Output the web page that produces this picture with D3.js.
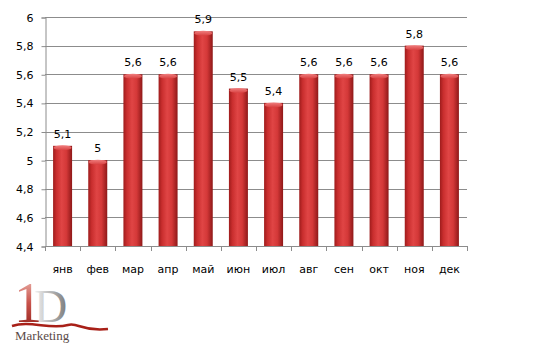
<!DOCTYPE html>
<html>
<head>
<meta charset="utf-8">
<script src="https://cdn.jsdelivr.net/npm/d3@7"></script>
<style>
body { margin: 0; background: #fff; }
</style>
</head>
<body>
<svg id="chart" width="540" height="348"></svg>
<script>
// monthly values
var months = ['янв', 'фев', 'мар', 'апр', 'май', 'июн', 'июл', 'авг', 'сен', 'окт', 'ноя', 'дек'];
var values = [5.1, 5.0, 5.6, 5.6, 5.9, 5.5, 5.4, 5.6, 5.6, 5.6, 5.8, 5.6];
var y_ticks = [4.4, 4.6, 4.8, 5.0, 5.2, 5.4, 5.6, 5.8, 6.0];

var svg = d3.select('#chart');
var plot_left = 45, plot_right = 467, plot_top = 17, plot_bottom = 246;
var sans = '"DejaVu Sans", Verdana, sans-serif';
var serif = '"Liberation Serif", "DejaVu Serif", serif';

var x = d3.scaleBand().domain(months).range([plot_left, plot_right]).paddingInner(0.46).paddingOuter(0.23);
var y = d3.scaleLinear().domain([4.4, 6]).range([plot_bottom, plot_top]);
var fmt = function (d) { return String(+d.toFixed(1)).replace('.', ','); };

var defs = svg.append('defs');
var grad = defs.append('linearGradient').attr('id', 'bar-grad');
[[0, '#9e1c1c'], [0.18, '#c92e2e'], [0.45, '#e04545'], [0.7, '#d43838'], [1, '#8e1818']].forEach(function (s) {
    grad.append('stop').attr('offset', s[0]).attr('stop-color', s[1]);
});
var capGrad = defs.append('linearGradient').attr('id', 'cap-grad').attr('x1', 0).attr('y1', 0).attr('x2', 0).attr('y2', 1);
capGrad.append('stop').attr('offset', 0).attr('stop-color', '#f08080');
capGrad.append('stop').attr('offset', 1).attr('stop-color', '#d84040');

// grid lines
svg.append('g').selectAll('line').data(y_ticks.slice(1)).enter().append('line')
    .attr('x1', plot_left).attr('x2', plot_right)
    .attr('y1', function (d) { return Math.round(y(d)) + 0.5; })
    .attr('y2', function (d) { return Math.round(y(d)) + 0.5; })
    .attr('stroke', '#8c8c8c').attr('stroke-width', 1);

// axes
var yAxis = svg.append('g').attr('transform', 'translate(' + (plot_left + 0.5) + ',0.5)')
    .call(d3.axisLeft(y).tickValues(y_ticks).tickFormat(fmt).tickSize(4).tickPadding(8));
yAxis.select('.domain').attr('stroke', '#8c8c8c');
yAxis.selectAll('.tick line').attr('stroke', '#8c8c8c');
yAxis.selectAll('.tick text').attr('font-size', 11).attr('fill', '#000').attr('font-family', sans);

var xTicks = d3.range(months.length + 1).map(function (i) {
    return plot_left + i * (plot_right - plot_left) / months.length;
});
var xAxis = svg.append('g');
xAxis.append('line').attr('x1', plot_left).attr('x2', plot_right)
    .attr('y1', plot_bottom + 0.5).attr('y2', plot_bottom + 0.5).attr('stroke', '#8c8c8c');
xAxis.selectAll('.tk').data(xTicks).enter().append('line')
    .attr('x1', function (d) { return Math.round(d) + 0.5; })
    .attr('x2', function (d) { return Math.round(d) + 0.5; })
    .attr('y1', plot_bottom).attr('y2', plot_bottom + 5).attr('stroke', '#8c8c8c');
xAxis.selectAll('.lbl').data(months).enter().append('text')
    .attr('x', function (d) { return x(d) + x.bandwidth() / 2; })
    .attr('y', 273).attr('text-anchor', 'middle')
    .attr('font-family', sans).attr('font-size', 11).attr('fill', '#000')
    .text(function (d) { return d; });

// bars
var bars = svg.append('g').selectAll('g').data(values).enter().append('g');
bars.append('rect')
    .attr('x', function (d, i) { return x(months[i]); })
    .attr('y', function (d) { return y(d); })
    .attr('width', x.bandwidth())
    .attr('height', function (d) { return plot_bottom - y(d); })
    .attr('fill', 'url(#bar-grad)');
bars.append('ellipse')
    .attr('cx', function (d, i) { return x(months[i]) + x.bandwidth() / 2; })
    .attr('cy', function (d) { return y(d) + 2; })
    .attr('rx', x.bandwidth() / 2 - 0.5).attr('ry', 2.5)
    .attr('fill', 'url(#cap-grad)');
bars.append('text')
    .attr('x', function (d, i) { return x(months[i]) + x.bandwidth() / 2; })
    .attr('y', function (d) { return y(d) - 8; })
    .attr('text-anchor', 'middle')
    .attr('font-family', sans).attr('font-size', 11).attr('fill', '#000')
    .text(fmt);

// logo
var logo = svg.append('g');
var dGrad = defs.append('linearGradient').attr('id', 'd-grad');
dGrad.append('stop').attr('offset', 0).attr('stop-color', '#f4f4f4');
dGrad.append('stop').attr('offset', 1).attr('stop-color', '#7a7a7a');
var oneGrad = defs.append('linearGradient').attr('id', 'one-grad').attr('x1', 0).attr('y1', 0).attr('x2', 0).attr('y2', 1);
oneGrad.append('stop').attr('offset', 0).attr('stop-color', '#f3c8c0');
oneGrad.append('stop').attr('offset', 0.5).attr('stop-color', '#c8524a');
oneGrad.append('stop').attr('offset', 1).attr('stop-color', '#8a1a14');
logo.append('text').attr('x', 34).attr('y', 322).attr('font-family', serif)
    .attr('font-size', 46).attr('fill', 'url(#d-grad)').text('D');
logo.append('text').attr('x', 14).attr('y', 322).attr('font-family', serif)
    .attr('font-size', 56).attr('fill', 'url(#one-grad)').text('1');
logo.append('path').attr('d', 'M12 326 C 30 320, 50 330, 68 325 C 78 322, 82 332, 108 329')
    .attr('fill', 'none').attr('stroke', '#a82018').attr('stroke-width', 2.5);
logo.append('text').attr('x', 15).attr('y', 340).attr('font-family', serif)
    .attr('font-size', 13).attr('fill', '#5a4a48').text('Marketing');
</script>
</body>
</html>
